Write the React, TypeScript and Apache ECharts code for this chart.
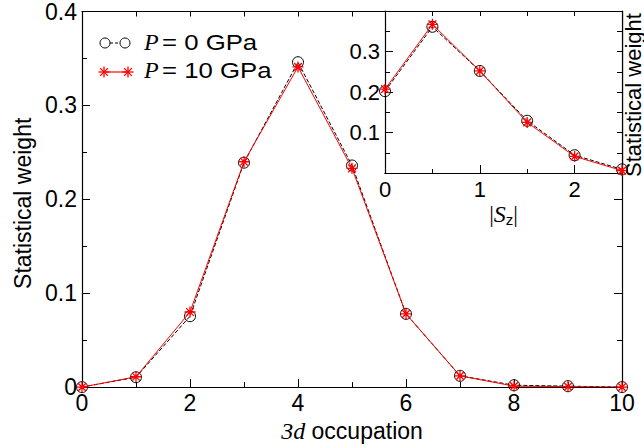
import React, { useEffect, useRef } from "react";
import * as echarts from "echarts";

// ---- data ----
const occupation = [0, 1, 2, 3, 4, 5, 6, 7, 8, 9, 10];
const weightP0 = [0.0, 0.0105, 0.0755, 0.239, 0.346, 0.236, 0.078, 0.012, 0.002, 0.001, 0.0];
const weightP10 = [0.0, 0.011, 0.08, 0.24, 0.341, 0.233, 0.078, 0.012, 0.001, 0.0005, 0.0];

const szValues = [0, 0.5, 1, 1.5, 2, 2.5];
const szWeightP0 = [0.202, 0.361, 0.252, 0.129, 0.044, 0.009];
const szWeightP10 = [0.207, 0.367, 0.252, 0.125, 0.041, 0.006];

const legendValues = ["= 0 GPa", "= 10 GPa"];
const yTitle = "Statistical weight";

const SANS = "'Liberation Sans', Arial, Helvetica, sans-serif";
const SERIF = "'Liberation Serif', 'Times New Roman', serif";
const STAR = "path://M5 0L5 10M0 5L10 5M1.46 1.46L8.54 8.54M8.54 1.46L1.46 8.54";

function frameAxis(extra: any) {
  return {
    type: "value",
    axisLine: { show: true, onZero: false, lineStyle: { color: "#000", width: 1.2 } },
    axisTick: { show: true, inside: true, length: 8, lineStyle: { color: "#000", width: 1 } },
    splitLine: { show: false },
    axisLabel: { show: false },
    ...extra,
  };
}

const minor = (len: number) => ({
  show: true,
  splitNumber: 2,
  length: len,
  lineStyle: { color: "#000", width: 1 },
});

function starLines(cx: number, cy: number, r: number, color: string, z: number) {
  const d = r * 0.7071;
  const segs = [
    [cx - r, cy, cx + r, cy],
    [cx, cy - r, cx, cy + r],
    [cx - d, cy - d, cx + d, cy + d],
    [cx - d, cy + d, cx + d, cy - d],
  ];
  return segs.map((s) => ({
    type: "line",
    z,
    shape: { x1: s[0], y1: s[1], x2: s[2], y2: s[3] },
    style: { stroke: color, lineWidth: 1.3 },
  }));
}

export default function App() {
  const ref = useRef<HTMLDivElement>(null);
  useEffect(() => {
    if (!ref.current) return;
    const chart = echarts.init(ref.current, null, { renderer: "svg" });
    const tickLabel = (size: number) => ({
      show: true,
      fontSize: size,
      fontFamily: SANS,
      color: "#000",
    });
    const option: any = {
      animation: false,
      backgroundColor: "#fff",
      grid: [
        { left: 82, top: 10, width: 540, height: 380, show: false },
        {
          left: 385,
          top: 11,
          width: 237,
          height: 162,
          show: true,
          backgroundColor: "#fff",
          borderWidth: 0,
          z: 10,
        },
      ],
      xAxis: [
        frameAxis({
          gridIndex: 0,
          position: "bottom",
          min: 0,
          max: 10,
          interval: 2,
          minorTick: minor(5),
          axisLabel: { ...tickLabel(23), margin: 4 },
          name: "{i|3d} occupation",
          nameLocation: "middle",
          nameGap: 26,
          nameTextStyle: {
            fontSize: 23,
            fontFamily: SANS,
            color: "#000",
            rich: {
              i: { fontFamily: SERIF, fontStyle: "italic", fontSize: 24, color: "#000" },
            },
          },
        }),
        frameAxis({
          gridIndex: 0,
          position: "top",
          min: 0,
          max: 10,
          interval: 1,
          axisTick: { show: true, inside: true, length: 5, lineStyle: { color: "#000" } },
        }),
        frameAxis({
          gridIndex: 1,
          position: "bottom",
          min: 0,
          max: 2.5,
          interval: 0.5,
          z: 11,
          axisTick: { show: true, inside: true, length: 4, lineStyle: { color: "#000" } },
          axisLabel: {
            ...tickLabel(22),
            margin: 5,
            showMaxLabel: false,
            formatter: (v: number) => (Math.abs(v - Math.round(v)) < 1e-6 ? String(Math.round(v)) : ""),
          },
          name: "|{s|S}{z|z}|",
          nameLocation: "middle",
          nameGap: 28,
          nameTextStyle: {
            fontSize: 23,
            fontFamily: SERIF,
            color: "#000",
            lineHeight: 26,
            rich: {
              s: { fontFamily: SERIF, fontStyle: "italic", fontSize: 24, color: "#000", lineHeight: 26 },
              z: { fontFamily: SANS, fontSize: 15, color: "#000", verticalAlign: "bottom", lineHeight: 14 },
            },
          },
        }),
        frameAxis({
          gridIndex: 1,
          position: "bottom",
          min: 0,
          max: 2.5,
          interval: 1,
          z: 11,
          axisTick: { show: true, inside: true, length: 8, lineStyle: { color: "#000" } },
        }),
        frameAxis({
          gridIndex: 1,
          position: "top",
          min: 0,
          max: 2.5,
          interval: 0.5,
          z: 11,
          axisTick: { show: true, inside: true, length: 5, lineStyle: { color: "#000" } },
        }),
      ],
      yAxis: [
        frameAxis({
          gridIndex: 0,
          position: "left",
          min: 0,
          max: 0.4,
          interval: 0.1,
          minorTick: minor(5),
          axisLabel: {
            ...tickLabel(23),
            margin: 5,
            formatter: (v: number) => (Math.abs(v) < 1e-9 ? "0" : v.toFixed(1)),
          },
          name: yTitle,
          nameLocation: "middle",
          nameGap: 46,
          nameTextStyle: { fontSize: 23, fontFamily: SANS, color: "#000", padding: [0, 0, 0, -8] },
        }),
        frameAxis({
          gridIndex: 0,
          position: "right",
          min: 0,
          max: 0.4,
          interval: 0.1,
          minorTick: minor(5),
        }),
        frameAxis({
          gridIndex: 1,
          position: "left",
          min: 0,
          max: 0.4,
          interval: 0.1,
          z: 11,
          minorTick: minor(5),
          axisLabel: {
            ...tickLabel(22),
            margin: 5,
            showMinLabel: false,
            showMaxLabel: false,
            formatter: (v: number) => v.toFixed(1),
          },
        }),
        frameAxis({
          gridIndex: 1,
          position: "right",
          min: 0,
          max: 0.4,
          interval: 0.05,
          z: 11,
          axisTick: { show: true, inside: true, length: 5, lineStyle: { color: "#000" } },
        }),
      ],
      series: [
        {
          type: "line",
          xAxisIndex: 0,
          yAxisIndex: 0,
          data: occupation.map((x, i) => [x, weightP0[i]]),
          symbol: "circle",
          symbolSize: 11,
          itemStyle: { color: "rgba(0,0,0,0)", borderColor: "#000", borderWidth: 1 },
          lineStyle: { color: "#000", width: 1, type: [4, 2] },
          z: 2,
        },
        {
          type: "line",
          xAxisIndex: 0,
          yAxisIndex: 0,
          data: occupation.map((x, i) => [x, weightP10[i]]),
          symbol: STAR,
          symbolSize: 11,
          itemStyle: { color: "#f00", borderColor: "#f00", borderWidth: 1.3 },
          lineStyle: { color: "#f00", width: 1 },
          z: 3,
        },
        {
          type: "line",
          xAxisIndex: 2,
          yAxisIndex: 2,
          data: szValues.map((x, i) => [x, szWeightP0[i]]),
          symbol: "circle",
          symbolSize: 11,
          itemStyle: { color: "rgba(0,0,0,0)", borderColor: "#000", borderWidth: 1 },
          lineStyle: { color: "#000", width: 1, type: [4, 2] },
          z: 12,
        },
        {
          type: "line",
          xAxisIndex: 2,
          yAxisIndex: 2,
          data: szValues.map((x, i) => [x, szWeightP10[i]]),
          symbol: STAR,
          symbolSize: 11,
          itemStyle: { color: "#f00", borderColor: "#f00", borderWidth: 1.3 },
          lineStyle: { color: "#f00", width: 1 },
          z: 13,
        },
      ],
      graphic: [
        // inset right-hand title, kept inside the page
        {
          type: "text",
          z: 30,
          x: 644,
          y: 177,
          rotation: Math.PI / 2,
          style: {
            text: yTitle,
            fontFamily: SANS,
            fontSize: 22,
            fill: "#000",
            align: "left",
            verticalAlign: "bottom",
          },
        },
        // legend row 1
        { type: "circle", z: 20, shape: { cx: 105, cy: 43, r: 5 }, style: { fill: "none", stroke: "#000", lineWidth: 1 } },
        { type: "circle", z: 20, shape: { cx: 125, cy: 43, r: 5 }, style: { fill: "none", stroke: "#000", lineWidth: 1 } },
        { type: "line", z: 20, shape: { x1: 110, y1: 43, x2: 120, y2: 43 }, style: { stroke: "#000", lineWidth: 1, lineDash: [3, 2] } },
        { type: "text", z: 20, x: 144, y: 42, style: { text: "P", fontFamily: SERIF, fontStyle: "italic", fontSize: 24, fill: "#000", verticalAlign: "middle" } },
        { type: "text", z: 20, x: 162, y: 42, scaleX: 1.12, style: { text: legendValues[0], fontFamily: SANS, fontSize: 23, fill: "#000", verticalAlign: "middle" } },
        // legend row 2
        { type: "line", z: 20, shape: { x1: 104, y1: 72, x2: 128, y2: 72 }, style: { stroke: "#f00", lineWidth: 1.2 } },
        ...starLines(104, 72, 5.5, "#f00", 21),
        ...starLines(128, 72, 5.5, "#f00", 21),
        { type: "text", z: 20, x: 144, y: 70, style: { text: "P", fontFamily: SERIF, fontStyle: "italic", fontSize: 24, fill: "#000", verticalAlign: "middle" } },
        { type: "text", z: 20, x: 162, y: 70, scaleX: 1.12, style: { text: legendValues[1], fontFamily: SANS, fontSize: 23, fill: "#000", verticalAlign: "middle" } },
      ],
    };
    chart.setOption(option);
    return () => chart.dispose();
  }, []);
  return (
    <div
      ref={ref}
      style={{ position: "fixed", left: 0, top: 0, width: 644, height: 448, background: "#fff" }}
    />
  );
}
